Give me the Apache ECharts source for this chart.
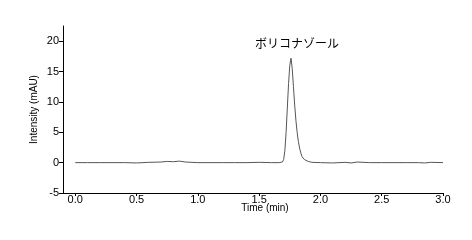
<!DOCTYPE html>
<html><head><meta charset="utf-8">
<script src="https://cdn.jsdelivr.net/npm/echarts@6/dist/echarts.min.js"></script>
<style>html,body{margin:0;padding:0;background:#fff}#c{width:472px;height:240px}</style>
</head><body><div id="c"></div>
<script>
var times = [0, 0.1, 0.2, 0.3, 0.4, 0.5, 0.6, 0.7, 0.75, 0.8, 0.85, 0.9, 1.0, 1.1, 1.2, 1.3, 1.4, 1.5, 1.6, 1.66, 1.69, 1.70, 1.71, 1.72, 1.73, 1.74, 1.75, 1.76, 1.77, 1.78, 1.79, 1.80, 1.81, 1.82, 1.83, 1.84, 1.85, 1.87, 1.90, 1.93, 2.0, 2.1, 2.2, 2.25, 2.3, 2.4, 2.5, 2.6, 2.7, 2.8, 2.85, 2.9, 3.0];
var intensity = [0, 0, 0, 0, 0, -0.05, 0.05, 0.1, 0.2, 0.15, 0.25, 0.1, 0, 0, 0, 0, 0, 0.05, 0, 0, 0.1, 0.5, 2, 5, 9, 13, 16, 17.2, 15.5, 12.5, 9.5, 7, 5, 3.5, 2.4, 1.6, 1.0, 0.5, 0.2, 0.05, 0, -0.05, 0.05, -0.05, 0.1, 0, 0, 0, 0, 0, -0.05, 0.05, 0];
var xTicks = [0, 0.5, 1.0, 1.5, 2.0, 2.5, 3.0];
var yTicks = [-5, 0, 5, 10, 15, 20];
var peakName = 'ボリコナゾール';
var peakTime = 1.76, peakValue = 17.2;

var chart = echarts.init(document.getElementById('c'), null, {renderer: 'canvas'});
var data = times.map(function (t, i) { return [t, intensity[i]]; });
var font = 'Liberation Sans, Arial, sans-serif';
chart.setOption({
  animation: false,
  grid: {left: 63, right: 29, top: 26, bottom: 47, containLabel: false},
  xAxis: {
    type: 'value', min: -0.1, max: 3.0,
    name: 'Time (min)', nameLocation: 'middle', nameGap: 10, nameMoveOverlap: false,
    nameTextStyle: {color: '#000', fontSize: 10, fontFamily: font, padding: [0, 0, 0, 24], verticalAlign: 'top'},
    axisLine: {show: true, onZero: false, lineStyle: {color: '#000', width: 1}},
    axisTick: {show: true, length: 3, lineStyle: {color: '#000'}, customValues: xTicks},
    axisLabel: {color: '#000', fontSize: 11, fontFamily: font, margin: 1, customValues: xTicks,
      formatter: function (v) { return v.toFixed(1); }},
    splitLine: {show: false}
  },
  yAxis: {
    type: 'value', min: -5, max: 22.5,
    name: 'Intensity (mAU)', nameLocation: 'middle', nameGap: 24, nameMoveOverlap: false,
    nameTextStyle: {color: '#000', fontSize: 10, fontFamily: font},
    axisLine: {show: true, onZero: false, lineStyle: {color: '#000', width: 1}},
    axisTick: {show: true, length: 4, lineStyle: {color: '#000'}, customValues: yTicks},
    axisLabel: {color: '#000', fontSize: 11, fontFamily: font, margin: 4, customValues: yTicks},
    splitLine: {show: false}
  },
  series: [{
    type: 'line', data: data, showSymbol: false, symbol: 'none',
    lineStyle: {color: '#555', width: 1},
    markPoint: {
      symbol: 'circle', symbolSize: 0,
      data: [{coord: [peakTime, peakValue], value: peakName}],
      label: {show: true, position: 'top', distance: 0, offset: [6, -9], color: '#000', fontSize: 12,
        fontFamily: 'Noto Sans CJK JP, sans-serif', formatter: '{c}'}
    }
  }]
});
</script></body></html>
